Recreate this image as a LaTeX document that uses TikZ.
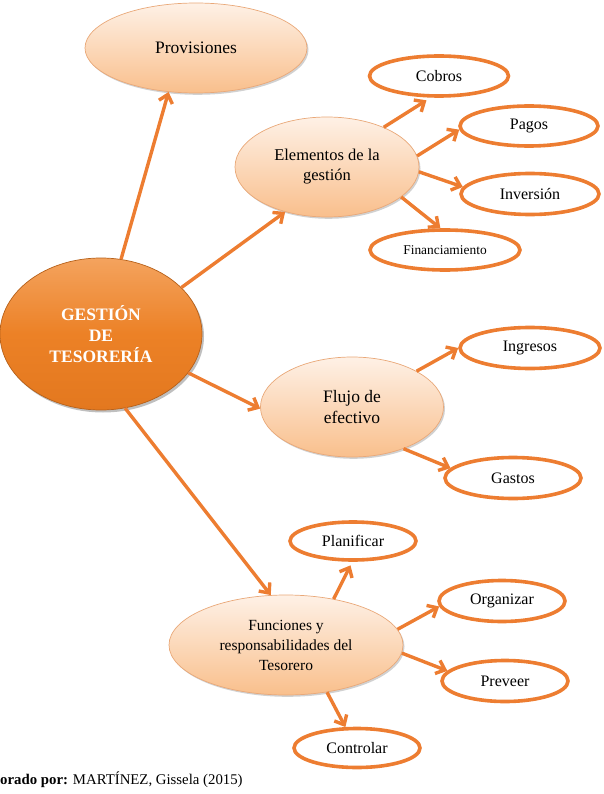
\documentclass[tikz,border=0pt]{standalone}
\usepackage{fontspec}
\setmainfont{Liberation Serif}
\usetikzlibrary{arrows.meta,shapes.geometric,shadows}
\definecolor{acc}{HTML}{ED7D31}
\definecolor{peachT}{HTML}{FEF1E6}
\definecolor{peachB}{HTML}{F9BF8C}
\definecolor{peachEdge}{HTML}{E9A878}
\definecolor{bigT}{HTML}{F4A35E}
\definecolor{bigM}{HTML}{EC8126}
\definecolor{bigB}{HTML}{E3781F}
\tikzset{
  conn/.style={draw=acc, line width=3.4pt, -{Straight Barb[length=8pt,width=14pt]}},
  pale/.style={ellipse, inner sep=0pt, align=center, top color=peachT, bottom color=peachB,
    draw=peachEdge, line width=0.7pt,
    drop shadow={shadow xshift=1.5pt, shadow yshift=-1.8pt, fill=black!40, opacity=0.45}},
  leaf/.style={ellipse, inner sep=0pt, align=center, draw=acc, line width=3.6pt, fill=white,
    font=\fontsize{16}{19}\selectfont},
  big/.style={ellipse, inner sep=0pt, align=center, top color=bigT, bottom color=bigB, middle color=bigM,
    draw=bigB!80!black, line width=0.7pt, text=white,
    drop shadow={shadow xshift=2pt, shadow yshift=-2.5pt, fill=black!50, opacity=0.5},
    font=\fontsize{17.5}{21}\selectfont\bfseries},
}
\begin{document}
\begin{tikzpicture}[x=1pt,y=-1pt]
\useasboundingbox (0,0) rectangle (604,794);
% main nodes
\node[pale, minimum width=222pt, minimum height=90pt, font=\fontsize{17.5}{21}\selectfont] (prov) at (196,48) {Provisiones};
\node[big, minimum width=202pt, minimum height=152pt] (g) at (101,334) {GESTIÓN\\DE\\TESORERÍA};
\node[pale, minimum width=184pt, minimum height=100pt, font=\fontsize{16.5}{20}\selectfont] (elem) at (327,167) {Elementos de la\\gestión};
\node[pale, minimum width=183pt, minimum height=100pt, font=\fontsize{17.5}{21}\selectfont] (flujo) at (352,407) {Flujo de\\efectivo};
\node[pale, minimum width=234pt, minimum height=100pt, font=\fontsize{15.5}{20}\selectfont] (func) at (286,645) {Funciones y\\responsabilidades del\\Tesorero};
% leaves
\node[leaf, minimum width=139pt, minimum height=40pt] (cobros) at (439,76) {Cobros};
\node[leaf, minimum width=138pt, minimum height=40pt] (pagos) at (529,126) {Pagos};
\node[leaf, minimum width=138pt, minimum height=41pt] (inv) at (530,194) {Inversión};
\node[leaf, minimum width=150pt, minimum height=40pt, font=\fontsize{13.4}{16}\selectfont] (fin) at (445,250) {Financiamiento};
\node[leaf, minimum width=140pt, minimum height=41pt] (ing) at (530,348) {Ingresos};
\node[leaf, minimum width=136pt, minimum height=41pt] (gastos) at (513,478) {Gastos};
\node[leaf, minimum width=126pt, minimum height=38pt] (plan) at (353,541) {Planificar};
\node[leaf, minimum width=126pt, minimum height=41pt] (org) at (502,601) {Organizar};
\node[leaf, minimum width=126pt, minimum height=41pt] (prev) at (505,681) {Preveer};
\node[leaf, minimum width=126pt, minimum height=39pt] (ctrl) at (357,748) {Controlar};
% connectors
\draw[conn] (g.75) -- (prov.238);
\draw[conn] (g.30) -- (elem.227);
\draw[conn] (g.336) -- (flujo.181);
\draw[conn] (g.288) -- (func.107);
\draw[conn, shorten >=5pt] (elem.35) -- (cobros.249);
\draw[conn] (elem.7.5) -- (pagos.183);
\draw[conn] (elem.357) -- (inv.174);
\draw[conn] (elem.338) -- (fin.102);
\draw[conn] (flujo.29) -- (ing.180);
\draw[conn] (flujo.321) -- (gastos.171);
\draw[conn, shorten >=4pt] (func.44) -- (plan.268);
\draw[conn] (func.8.6) -- (org.185);
\draw[conn] (func.356.6) -- (prev.170);
\draw[conn] (func.311) -- (ctrl.119);
% caption
\node[anchor=base west, inner sep=0pt, font=\fontsize{14.8}{17}\selectfont] (cap) at (0,784) {\textbf{orado por:} MARTÍNEZ, Gissela (2015)};
\end{tikzpicture}
\end{document}
